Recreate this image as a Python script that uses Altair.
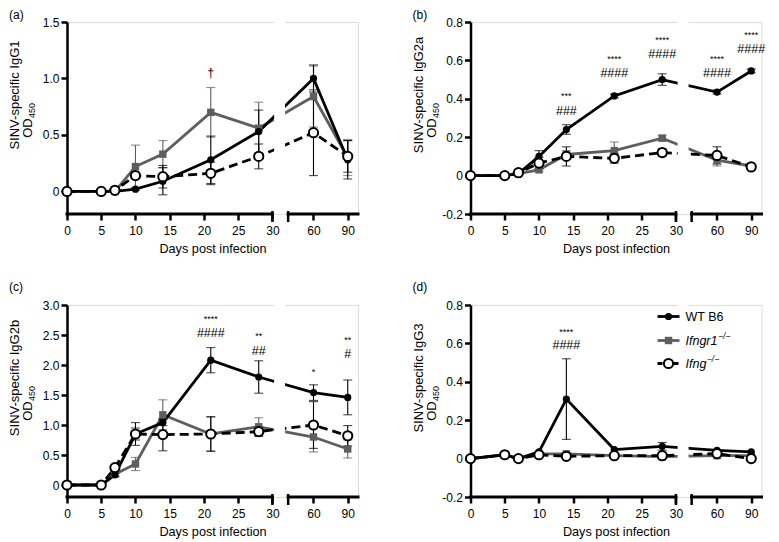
import altair as alt
import pandas as pd

# ---------------- data ----------------
DAYS = [0, 5, 7, 10, 14, 21, 28, 60, 90]
X_TICKS = [0, 5, 10, 15, 20, 25, 30, 60, 90]
SERIES = ["WT B6", "Ifngr1", "Ifng"]

# (a) IgG1
A_WT = [0, 0, 0, 0.02, 0.09, 0.28, 0.53, 1.00, 0.28]
A_WT_E = [0, 0, 0, 0.01, 0.12, 0.21, 0.19, 0.12, 0.17]
A_GR = [0, 0, 0, 0.22, 0.33, 0.70, 0.56, 0.84, 0.30]
A_GR_E = [0, 0, 0, 0.19, 0.12, 0.22, 0.23, 0.27, 0.16]
A_IG = [0, 0, 0.01, 0.14, 0.13, 0.16, 0.31, 0.52, 0.31]
A_IG_E = [0, 0, 0, 0.03, 0.10, 0.10, 0.11, 0.38, 0.14]
A_ANN = [(21, 1.05, "\u2020")]

# (b) IgG2a
B_WT = [0, 0, 0.01, 0.10, 0.24, 0.415, 0.50, 0.435, 0.545]
B_WT_E = [0, 0, 0, 0.03, 0.025, 0.01, 0.03, 0.01, 0.01]
B_GR = [0, 0, 0.01, 0.03, 0.11, 0.13, 0.195, 0.08, 0.05]
B_GR_E = [0, 0, 0, 0.01, 0.02, 0.045, 0.015, 0.03, 0.01]
B_IG = [0, 0, 0.015, 0.065, 0.10, 0.09, 0.12, 0.105, 0.045]
B_IG_E = [0, 0, 0, 0.03, 0.05, 0.025, 0.02, 0.045, 0.01]
B_ANN = [(14, 0.412, "***"), (14, 0.338, "###"), (21, 0.608, "****"), (21, 0.536, "####"),
         (28, 0.707, "****"), (28, 0.634, "####"), (60, 0.608, "****"), (60, 0.536, "####"),
         (90, 0.73, "****"), (90, 0.66, "####")]

# (c) IgG2b
C_WT = [0, 0, 0.17, 0.85, 1.04, 2.08, 1.80, 1.54, 1.46]
C_WT_E = [0, 0, 0.03, 0.19, 0.05, 0.21, 0.27, 0.13, 0.29]
C_GR = [0, 0, 0.18, 0.35, 1.17, 0.85, 0.97, 0.80, 0.60]
C_GR_E = [0, 0, 0.03, 0.11, 0.25, 0.28, 0.15, 0.25, 0.15]
C_IG = [0, 0, 0.29, 0.85, 0.84, 0.85, 0.89, 1.00, 0.82]
C_IG_E = [0, 0, 0.03, 0.10, 0.27, 0.29, 0.08, 0.39, 0.17]
C_ANN = [(21, 2.76, "****"), (21, 2.54, "####"), (28, 2.49, "**"), (28, 2.24, "##"),
         (60, 1.89, "*"), (90, 2.42, "**"), (90, 2.19, "#")]

# (d) IgG3
D_WT = [0, 0.02, 0.0, 0.035, 0.31, 0.047, 0.064, 0.043, 0.035]
D_WT_E = [0, 0, 0, 0, 0.21, 0, 0.02, 0, 0]
D_GR = [0, 0.02, 0.0, 0.025, 0.025, 0.015, 0.01, 0.015, 0.015]
D_GR_E = [0, 0, 0, 0, 0, 0, 0, 0, 0]
D_IG = [0, 0.02, 0.0, 0.02, 0.012, 0.015, 0.015, 0.026, 0.0]
D_IG_E = [0, 0, 0, 0, 0, 0, 0, 0, 0]
D_ANN = [(14, 0.66, "****"), (14, 0.59, "####")]

# ---------------- layout / style ----------------
W, H = 291, 192
FS = 12          # tick labels / tags
FS_T = 12.7      # x axis title
FS_Y = 13        # y axis title
FS_L = 12.5      # legend
GRAY = "#5e5e5e"
BREAK_POS = {60: 36, 90: 41}
X_MAX = 42.5
AXIS_SEGMENTS = {"a": [0, 32.3], "b": [30, X_MAX]}
GAP = (30.25, 31.85)
POS = "datum.day <= 30 ? datum.day : (datum.day == 60 ? 36 : 41)"


def to_pos(d):
    return d if d <= 30 else BREAK_POS[d]


LABEL_EXPR_X = "datum.value == 36 ? '60' : (datum.value == 41 ? '90' : datum.label)"
LABEL_EXPR_Y = ("datum.value == 0 ? '0' : (datum.value < 0 ? '-' + format(-datum.value, '.1f')"
                " : format(datum.value, '.1f'))")


def panel(tag, title, ydom, yticks, vals, ann, tag_dy, legend=False):
    wt, wte, gr, gre, ig, ige = vals
    rows = []
    for s, v_, e_ in zip(SERIES, (wt, gr, ig), (wte, gre, ige)):
        for d, v, e in zip(DAYS, v_, e_):
            rows.append({"series": s, "day": d, "value": v, "err": e})
    df = pd.DataFrame(rows)

    xs = alt.Scale(domain=[0, X_MAX], nice=False, zero=False)
    ys = alt.Scale(domain=ydom, nice=False, zero=False)
    xax = alt.Axis(values=[to_pos(t) for t in X_TICKS], labelExpr=LABEL_EXPR_X,
                   title="Days post infection", domain=False, grid=False,
                   tickSize=6, tickWidth=2.5, tickColor="black", labelColor="black",
                   labelFontSize=FS, labelPadding=5, titleFontSize=FS_T,
                   titleFontWeight="normal", titlePadding=6, titleColor="black",
                   labelFlush=False, labelOverlap=False)
    yax = alt.Axis(values=yticks, labelExpr=LABEL_EXPR_Y, title=None, grid=False,
                   domainWidth=2.5, domainColor="black", tickSize=6, tickWidth=2.5,
                   tickColor="black", labelFontSize=FS, labelPadding=2,
                   labelColor="black", labelFlush=False, labelOverlap=False)

    def X(f):
        return alt.X(f, scale=xs, axis=xax)

    def Y(f):
        return alt.Y(f, scale=ys, axis=yax)

    base = alt.Chart(df).transform_calculate(
        pos=POS, lo="datum.value - datum.err", hi="datum.value + datum.err")

    styles = {
        "WT B6": dict(color="black", dash=None),
        "Ifngr1": dict(color=GRAY, dash=None),
        "Ifng": dict(color="black", dash=[9, 5]),
    }
    layers = []
    for s in ["Ifngr1", "Ifng", "WT B6"]:
        st = styles[s]
        kw = dict(color=st["color"], strokeWidth=2.8)
        if st["dash"]:
            kw["strokeDash"] = st["dash"]
        layers.append(base.transform_filter(alt.datum.series == s)
                      .mark_line(**kw).encode(x=X("pos:Q"), y=Y("value:Q")))
    for s in ["Ifngr1", "Ifng", "WT B6"]:
        c = styles[s]["color"]
        eb = base.transform_filter(alt.datum.series == s).transform_filter("datum.err > 0")
        layers.append(eb.mark_rule(color=c, strokeWidth=1.1).encode(
            x=X("pos:Q"), y=Y("lo:Q"), y2="hi:Q"))
        layers.append(eb.mark_tick(color=c, thickness=1.1, size=9, orient="horizontal").encode(
            x=X("pos:Q"), y=Y("hi:Q")))
        layers.append(eb.mark_tick(color=c, thickness=1.1, size=9, orient="horizontal").encode(
            x=X("pos:Q"), y=Y("lo:Q")))
    layers.append(base.transform_filter(alt.datum.series == "Ifngr1").mark_point(
        shape="square", filled=True, color=GRAY, size=55, opacity=1).encode(
        x=X("pos:Q"), y=Y("value:Q")))
    layers.append(base.transform_filter(alt.datum.series == "WT B6").mark_point(
        shape="circle", filled=True, color="black", size=52, opacity=1).encode(
        x=X("pos:Q"), y=Y("value:Q")))
    layers.append(base.transform_filter(alt.datum.series == "Ifng").mark_point(
        shape="circle", filled=True, fill="white", stroke="black", strokeWidth=2,
        size=85, opacity=1).encode(x=X("pos:Q"), y=Y("value:Q")))

    # white gap at axis break
    layers.append(alt.Chart(pd.DataFrame({"a": [GAP[0]], "b": [GAP[1]]})).mark_rect(
        color="white").encode(x=X("a:Q"), x2="b:Q", y=alt.value(0), y2=alt.value(H - 3)))

    # annotations
    adf = pd.DataFrame({"day": [a[0] for a in ann], "y": [a[1] for a in ann],
                        "t": [a[2] for a in ann]})
    abase = alt.Chart(adf).transform_calculate(pos=POS)
    layers.append(abase.transform_filter("indexof(datum.t, '*') >= 0").mark_text(
        fontSize=9, color="#000000", baseline="middle").encode(
        x=X("pos:Q"), y=Y("y:Q"), text="t:N"))
    layers.append(abase.transform_filter("indexof(datum.t, '*') < 0").mark_text(
        fontSize=12.5, color="#000000", baseline="middle").encode(
        x=X("pos:Q"), y=Y("y:Q"), text="t:N"))

    # broken x axis line + caps
    layers.append(alt.Chart(pd.DataFrame(AXIS_SEGMENTS)).mark_rule(
        color="black", strokeWidth=3, strokeCap="square").encode(
        x=X("a:Q"), x2="b:Q", y=alt.value(H)))
    layers.append(alt.Chart(pd.DataFrame({"a": [AXIS_SEGMENTS["b"][0], AXIS_SEGMENTS["a"][1]]}))
                  .mark_rule(color="black", strokeWidth=2.5).encode(
        x=X("a:Q"), y=alt.value(H - 3), y2=alt.value(H + 8)))

    # panel tag
    layers.append(alt.Chart(pd.DataFrame({"t": [tag]})).mark_text(
        align="left", baseline="middle", fontSize=FS, color="black").encode(
        text="t:N", x=alt.value(-58), y=alt.value(tag_dy)))
    # y title (two lines, second with subscript)
    layers.append(alt.Chart(pd.DataFrame({"t": [title]})).mark_text(
        angle=270, align="center", baseline="middle", fontSize=FS_Y, color="black").encode(
        text="t:N", x=alt.value(-52), y=alt.value(H / 2 - 23)))
    layers.append(alt.Chart(pd.DataFrame({"t": ["OD"]})).mark_text(
        angle=270, align="center", baseline="middle", fontSize=FS_Y, color="black").encode(
        text="t:N", x=alt.value(-39), y=alt.value(H / 2 + 10)))
    layers.append(alt.Chart(pd.DataFrame({"t": ["450"]})).mark_text(
        angle=270, align="center", baseline="middle", fontSize=9, color="black").encode(
        text="t:N", x=alt.value(-35), y=alt.value(H / 2 - 7.5)))

    if legend:
        LX0, LX1, LMK, LTX = 187, 209, 198, 215
        rows_y = [11.5, 35.5, 58.5]
        for s, ry in zip(SERIES, rows_y):
            st = styles[s]
            one = pd.DataFrame({"t": [s]})
            lkw = dict(color=st["color"], strokeWidth=2.8)
            if st["dash"]:
                lkw["strokeDash"] = [5, 3]
            layers.append(alt.Chart(one).mark_rule(**lkw).encode(
                x=alt.value(LX0), x2=alt.value(LX1), y=alt.value(ry)))
            if s == "WT B6":
                pm = alt.Chart(one).mark_point(shape="circle", filled=True, color="black",
                                               size=52, opacity=1)
            elif s == "Ifngr1":
                pm = alt.Chart(one).mark_point(shape="square", filled=True, color=GRAY,
                                               size=55, opacity=1)
            else:
                pm = alt.Chart(one).mark_point(shape="circle", filled=True, fill="white",
                                               stroke="black", strokeWidth=2, size=85,
                                               opacity=1)
            layers.append(pm.encode(x=alt.value(LMK), y=alt.value(ry)))
            italic = s != "WT B6"
            tkw = dict(align="left", baseline="middle", fontSize=FS_L, color="black")
            if italic:
                tkw["fontStyle"] = "italic"
            layers.append(alt.Chart(one).mark_text(**tkw).encode(
                text="t:N", x=alt.value(LTX), y=alt.value(ry)))
            if italic:
                wtxt = {"Ifngr1": 32.5, "Ifng": 21.3}[s]
                layers.append(alt.Chart(pd.DataFrame({"t": ["\u2212/\u2212"]})).mark_text(
                    align="left", baseline="middle", fontSize=8.5, fontStyle="italic",
                    color="black").encode(text="t:N", x=alt.value(LTX + wtxt),
                                          y=alt.value(ry - 4.5)))

    return alt.layer(*layers).properties(width=W, height=H)


pa = panel("(a)", "SINV-specific IgG1", [-0.2, 1.5], [0, 0.5, 1.0, 1.5],
           (A_WT, A_WT_E, A_GR, A_GR_E, A_IG, A_IG_E), A_ANN, -7)
pb = panel("(b)", "SINV-specific IgG2a", [-0.2, 0.8], [-0.2, 0, 0.2, 0.4, 0.6, 0.8],
           (B_WT, B_WT_E, B_GR, B_GR_E, B_IG, B_IG_E), B_ANN, -7)
pc = panel("(c)", "SINV-specific IgG2b", [-0.2, 3.0], [0, 0.5, 1.0, 1.5, 2.0, 2.5, 3.0],
           (C_WT, C_WT_E, C_GR, C_GR_E, C_IG, C_IG_E), C_ANN, -18)
pd_ = panel("(d)", "SINV-specific IgG3", [-0.2, 0.8], [-0.2, 0, 0.2, 0.4, 0.6, 0.8],
            (D_WT, D_WT_E, D_GR, D_GR_E, D_IG, D_IG_E), D_ANN, -18, legend=True)

chart = alt.concat(pa, pb, pc, pd_, columns=2,
                   spacing={"row": 24, "column": 50.5}).properties(
    padding={"left": 0, "top": 0, "right": 0, "bottom": 0}
).configure_view(stroke=None).configure(font="Liberation Sans")

chart.save("out.html", embed_options={"renderer": "svg", "actions": False})
